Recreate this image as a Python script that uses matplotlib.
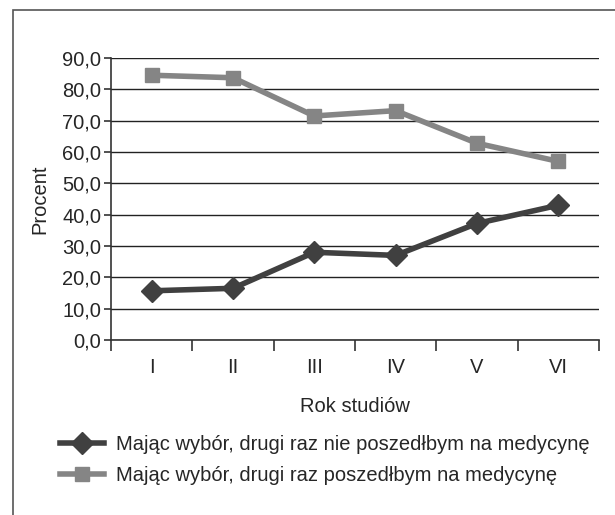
import matplotlib.pyplot as plt
from matplotlib.patches import Rectangle

plt.rcParams['font.family'] = ['Liberation Sans', 'DejaVu Sans']

# Data
years = ['I', 'II', 'III', 'IV', 'V', 'VI']
nie_poszedlbym = [15.7, 16.5, 28.0, 27.0, 37.2, 43.0]
poszedlbym = [84.5, 83.7, 71.5, 73.2, 62.8, 57.0]
label_nie = 'Mając wybór, drugi raz nie poszedłbym na medycynę'
label_tak = 'Mając wybór, drugi raz poszedłbym na medycynę'

fs = 14.5
txt = '#262626'

fig = plt.figure(figsize=(6.15, 5.15), dpi=100)

# outer frame (only left and top edges visible in the original crop)
fig.patches.append(Rectangle((13 / 615, -0.1), 1.0, 1 - 10 / 515 + 0.1,
                             transform=fig.transFigure, fill=False,
                             edgecolor='#555555', lw=1.2))

ax = fig.add_axes([111 / 615, 1 - 340 / 515, (599 - 111) / 615, (340 - 58) / 515])

x = list(range(len(years)))
ax.plot(x, nie_poszedlbym, color='#404040', lw=4, marker='D', ms=11,
        label=label_nie, zorder=3)
ax.plot(x, poszedlbym, color='#858585', lw=4, marker='s', ms=10,
        label=label_tak, zorder=3)

ax.set_xlim(-0.5, len(years) - 0.5)
ax.set_ylim(0, 90)
ax.set_yticks(range(0, 91, 10))
ax.set_yticklabels([f'{v},0' for v in range(0, 91, 10)], fontsize=fs, color=txt)
ax.yaxis.grid(True, color='#222222', lw=1)
ax.set_axisbelow(True)

ax.set_xticks([i - 0.5 for i in range(len(years) + 1)])
ax.set_xticklabels([])
ax.set_xticks(x, minor=True)
ax.set_xticklabels(years, minor=True, fontsize=fs, color=txt)
ax.tick_params(axis='x', which='major', length=8, width=1.2, color='#333333', direction='out')
ax.tick_params(axis='x', which='minor', length=0, pad=13)
ax.tick_params(axis='y', length=5, width=1.2, color='#333333', pad=2)

for s in ['top', 'right']:
    ax.spines[s].set_visible(False)
ax.spines['left'].set_color('#333333')
ax.spines['bottom'].set_color('#333333')
ax.spines['left'].set_linewidth(1.2)
ax.spines['bottom'].set_linewidth(1.2)

ax.set_xlabel('Rok studiów', fontsize=fs, color=txt, labelpad=14)
ax.set_ylabel('Procent', fontsize=fs, color=txt, labelpad=9)

fig.legend(loc='upper left', bbox_to_anchor=(42 / 615, 1 - 417 / 515),
           frameon=False, fontsize=fs, handlelength=2.2, handletextpad=0.55,
           labelspacing=0.6, labelcolor=txt)

fig.savefig('out.png', dpi=100)
print("Image generation complete")
